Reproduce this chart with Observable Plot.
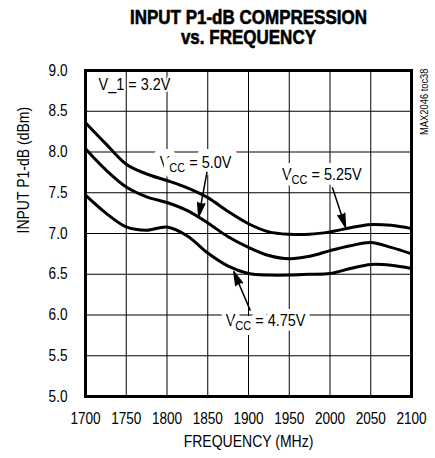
<!DOCTYPE html>
<html><head><meta charset="utf-8">
<script src="https://cdn.jsdelivr.net/npm/d3@7"></script>
<script src="https://cdn.jsdelivr.net/npm/@observablehq/plot@0.6"></script>
<style>
body{margin:0;background:#fff;}
#title{width:435px;height:56px;box-sizing:border-box;padding:7px 24px 0 85px;text-align:center;
 font-family:"Liberation Sans",Arial,sans-serif;font-weight:bold;font-size:20px;line-height:20px;color:#000;}
#title span{display:inline-block;transform:scaleX(0.85);transform-origin:center;white-space:nowrap;-webkit-text-stroke:0.6px #000;}
</style></head>
<body>
<div id="title"><span>INPUT P1-dB COMPRESSION</span><br><span>vs. FREQUENCY</span></div>
<div id="chart"></div>
<script>
const freq = [1700,1725,1750,1775,1800,1825,1850,1875,1900,1925,1950,1975,2000,2025,2050,2075,2100];
const vcc525 = [8.36,8.10,7.85,7.73,7.65,7.56,7.44,7.27,7.12,7.02,6.99,6.99,7.02,7.07,7.11,7.10,7.06];
const vcc500 = [8.04,7.78,7.57,7.45,7.38,7.28,7.13,6.96,6.83,6.73,6.69,6.72,6.79,6.85,6.89,6.83,6.75];
const vcc475 = [7.47,7.25,7.08,7.04,7.08,6.97,6.76,6.60,6.51,6.49,6.49,6.50,6.51,6.57,6.62,6.61,6.57];
const xTicks = [1700,1750,1800,1850,1900,1950,2000,2050,2100];
const yTicks = [5.0,5.5,6.0,6.5,7.0,7.5,8.0,8.5,9.0];

const labelText = ["V_1 = 3.2V","VCC = 5.0V","VCC = 5.25V","VCC = 4.75V"];
const labelX = [1716,1835,1990,1921];
const labelY = [8.83,7.87,7.72,5.93];
const labelAnchor = ["start","middle","middle","middle"];
const labelHalo = [4,14,10,10];

const arrowX1 = [1849,2003,1902];
const arrowY1 = [7.75,7.56,6.06];
const arrowX2 = [1839,2019,1882];
const arrowY2 = [7.21,7.08,6.53];

const rows = [];
[["5.25V",vcc525],["5.0V",vcc500],["4.75V",vcc475]].forEach(([s,vals]) =>
  vals.forEach((v,i) => rows.push({series:s, f:freq[i], v})));
const labels = labelText.map((t,i) => ({t, x:labelX[i], y:labelY[i], a:labelAnchor[i], h:labelHalo[i]}));
const arrows = arrowX1.map((x1,i) => ({x1, y1:arrowY1[i], x2:arrowX2[i], y2:arrowY2[i]}));

const F = '"Liberation Sans",Arial,sans-serif';
const S = 0.85; // horizontal condensing of text, like Helvetica Condensed
const chart = Plot.plot({
  width: 435, height: 402,
  marginTop: 14, marginLeft: 85, marginRight: 24, marginBottom: 62,
  style: {fontFamily: F, fontSize: "16px", color: "black", background: "white"},
  x: {domain: [1700,2100], ticks: xTicks, tickFormat: d => String(d), tickSize: 0, tickPadding: 16, label: null},
  y: {domain: [5,9], ticks: yTicks, tickFormat: d => d.toFixed(1), tickSize: 0, tickPadding: 18, label: null},
  marks: [
    Plot.ruleX(xTicks, {stroke: "black", strokeWidth: 1}),
    Plot.ruleY(yTicks, {stroke: "black", strokeWidth: 1}),
    ...labels.map(l => Plot.text([l], {x: "x", y: "y", text: "t", textAnchor: l.a, fontSize: 17,
      fill: "black", stroke: "white", strokeWidth: l.h, paintOrder: "stroke", strokeLinejoin: "round"})),
    Plot.line(rows, {x: "f", y: "v", z: "series", curve: "catmull-rom", stroke: "black", strokeWidth: 3}),
    Plot.arrow(arrows, {x1: "x1", y1: "y1", x2: "x2", y2: "y2", stroke: "black", fill: "black",
      strokeWidth: 1.5, headLength: 14, headAngle: 30}),
    Plot.frame({stroke: "black", strokeWidth: 3}),
    Plot.text(["FREQUENCY (MHz)"], {frameAnchor: "bottom", dy: 50, fontSize: 16.5}),
    Plot.text(["INPUT P1-dB (dBm)"], {frameAnchor: "left", rotate: -90, dx: -61.5, fontSize: 16.5}),
    Plot.text(["MAX2046 toc38"], {frameAnchor: "top-right", rotate: -90, textAnchor: "end", dx: 9, dy: -2, fontSize: 11})
  ]
});
// subscripts for VCC
chart.querySelectorAll("text").forEach(t => {
  const s = t.textContent;
  if (s.startsWith("VCC")) {
    const rest = s.slice(3);
    t.textContent = "V";
    const sub = document.createElementNS("http://www.w3.org/2000/svg","tspan");
    sub.setAttribute("font-size","13");
    sub.setAttribute("dy","4");
    sub.textContent = "CC";
    const r = document.createElementNS("http://www.w3.org/2000/svg","tspan");
    r.setAttribute("dy","-4");
    r.textContent = rest;
    t.appendChild(sub); t.appendChild(r);
  }
});
// condense all text horizontally about its anchor (y attributes such as "0.32em" are kept)
chart.querySelectorAll("text").forEach(t => {
  const xa = t.getAttribute("x");
  let x = 0;
  if (xa !== null && /^-?[\d.]+$/.test(xa)) { x = +xa; t.removeAttribute("x"); }
  const tr = t.getAttribute("transform") || "";
  t.setAttribute("transform", `${tr} translate(${x},0) scale(${S},1)`);
});
document.getElementById("chart").appendChild(chart);
</script>
</body></html>
